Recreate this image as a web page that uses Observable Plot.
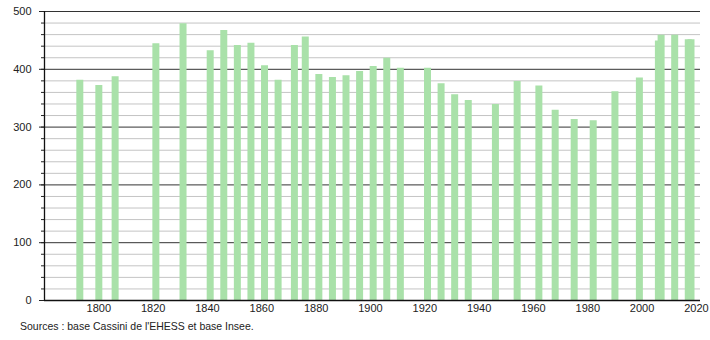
<!DOCTYPE html>
<html>
<head>
<meta charset="utf-8">
<script src="https://cdn.jsdelivr.net/npm/d3@7"></script>
<script src="https://cdn.jsdelivr.net/npm/@observablehq/plot@0.6"></script>
<style>
  body { margin: 0; background: #fff; font-family: "Liberation Sans", Arial, sans-serif; }
  #wrap { position: relative; width: 710px; height: 340px; }
  #caption { position: absolute; left: 20px; top: 320px; font-size: 10.5px; color: #222; white-space: nowrap; }
</style>
</head>
<body>
<div id="wrap"><div id="chart"></div><div id="caption">Sources : base Cassini de l'EHESS et base Insee.</div></div>
<script>
const years = [1793,1800,1806,1821,1831,1841,1846,1851,1856,1861,1866,1872,1876,1881,1886,1891,1896,1901,1906,1911,1921,1926,1931,1936,1946,1954,1962,1968,1975,1982,1990,1999,2006,2007,2012,2017,2018];
const population = [381,372,387,444,479,432,467,441,445,406,381,441,456,391,386,389,396,405,419,402,402,375,356,346,339,379,371,329,313,311,361,385,449,459,459,451,451];
const yMajorTicks = [0,100,200,300,400,500];
const yMinorTicks = d3.range(0, 501, 20);
const xTicks = [1800,1820,1840,1860,1880,1900,1920,1940,1960,1980,2000,2020];

const data = years.map((y, i) => ({year: y, pop: population[i]}));

const chart = Plot.plot({
  width: 710,
  height: 318,
  marginTop: 11,
  marginBottom: 18,
  marginLeft: 44,
  marginRight: 10,
  style: {fontFamily: "Liberation Sans, Arial, sans-serif", fontSize: "11px", color: "#222", background: "#fff"},
  x: {domain: [1780, 2021.5]},
  y: {domain: [0, 500]},
  marks: [
    Plot.ruleY(yMinorTicks.filter(v => v % 100 !== 0), {stroke: "#c4c4c4", strokeWidth: 1}),
    Plot.ruleY(yMajorTicks.filter(v => v > 0), {stroke: "#333", strokeWidth: 1}),
    Plot.ruleX(data, {x: "year", y1: 0, y2: "pop", stroke: "#a9e1a9", strokeWidth: 7}),
    Plot.axisY({ticks: yMinorTicks, tickSize: 3, tickFormat: () => "", stroke: "#222", label: null}),
    Plot.axisY({ticks: yMajorTicks, tickSize: 5, tickPadding: 8, stroke: "#222", fill: "#222", label: null}),
    Plot.axisX({ticks: xTicks, tickSize: 0, tickPadding: 4, tickFormat: d => String(d), fill: "#222", label: null}),
    Plot.ruleY([0], {stroke: "#111", strokeWidth: 1.3}),
    Plot.ruleX([1780], {stroke: "#111", strokeWidth: 1.3})
  ]
});
document.getElementById("chart").appendChild(chart);
</script>
</body>
</html>
